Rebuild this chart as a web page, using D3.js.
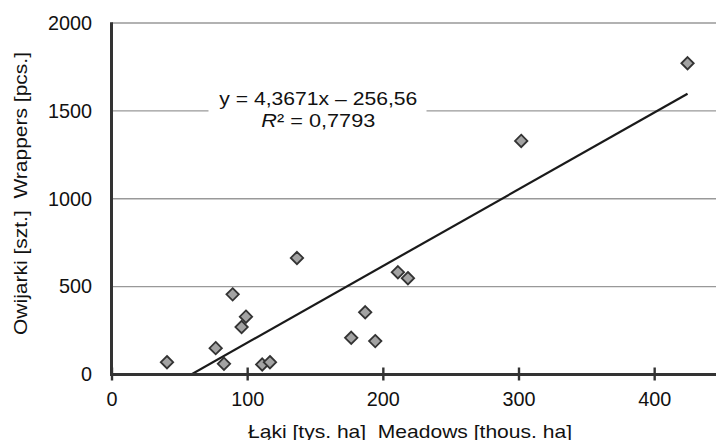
<!DOCTYPE html>
<html>
<head>
<meta charset="utf-8">
<script src="https://cdn.jsdelivr.net/npm/d3@7"></script>
<style>
html,body{margin:0;padding:0;background:#fff;}
svg{display:block;font-family:"Liberation Sans",Arial,Helvetica,sans-serif;}
</style>
</head>
<body>
<svg id="chart" width="716" height="440"></svg>
<script>
// Data
const meadows  = [40.9, 76.8, 82.9, 89.3, 95.9, 99.1, 111.1, 116.8, 136.7, 176.7, 187.0, 194.4, 211.1, 218.5, 302.0, 424.6];
const wrappers = [70, 150, 61, 456, 270, 329, 57, 70, 663, 209, 354, 190, 582, 548, 1329, 1771];
const xTicks = [0, 100, 200, 300, 400];
const yTicks = [0, 500, 1000, 1500, 2000];
const slope = 4.3671, intercept = -256.56;
const eqLine1 = "y = 4,3671x – 256,56";
const eqR2 = "0,7793";
const xTitle = "Łąki [tys. ha]  Meadows [thous. ha]";
const yTitle = "Owijarki [szt.]  Wrappers [pcs.]";

const svg = d3.select("#chart");
const x = d3.scaleLinear().domain([0, 450]).range([111.5, 722]);
const y = d3.scaleLinear().domain([0, 2000]).range([374.5, 23]);
const fs = 19, tfs = 19.8;

svg.append("clipPath").attr("id", "plotclip")
  .append("rect").attr("x", x(0)).attr("y", y(2000)).attr("width", x(450) - x(0)).attr("height", y(0) - y(2000));

// gridlines
svg.append("g").selectAll("line").data(yTicks.filter(d => d > 0)).join("line")
  .attr("x1", x(0)).attr("x2", 716)
  .attr("y1", d => y(d)).attr("y2", d => y(d))
  .attr("stroke", "#999").attr("stroke-width", 1.4);

// trendline
const xs = d3.extent(meadows);
svg.append("line")
  .attr("clip-path", "url(#plotclip)")
  .attr("x1", x(xs[0])).attr("y1", y(slope * xs[0] + intercept))
  .attr("x2", x(xs[1])).attr("y2", y(slope * xs[1] + intercept))
  .attr("stroke", "#1a1a1a").attr("stroke-width", 2.2);

// equation label box
const eqCx = 318.3;
svg.append("rect").attr("x", 208.5).attr("y", 82).attr("width", 218).attr("height", 50).attr("fill", "#fff");
svg.append("text").attr("x", eqCx).attr("y", 104.5).attr("text-anchor", "middle")
  .attr("font-size", fs).attr("fill", "#111")
  .attr("textLength", 198).attr("lengthAdjust", "spacingAndGlyphs")
  .text(eqLine1);
const t2 = svg.append("text").attr("x", eqCx).attr("y", 126.5).attr("text-anchor", "middle")
  .attr("font-size", fs).attr("fill", "#111")
  .attr("textLength", 114).attr("lengthAdjust", "spacingAndGlyphs");
t2.append("tspan").attr("font-style", "italic").text("R");
t2.append("tspan").text("² = " + eqR2);

// markers
svg.append("g").selectAll("path").data(meadows.map((d, i) => [d, wrappers[i]])).join("path")
  .attr("d", d3.symbol().type(d3.symbolDiamond2).size(2 * 7 * 7))
  .attr("transform", d => `translate(${x(d[0])},${y(d[1])})`)
  .attr("fill", "#a3a3a3").attr("stroke", "#333").attr("stroke-width", 1.8);

// axes
const xAxis = svg.append("g").attr("transform", `translate(0,${y(0)})`)
  .call(d3.axisBottom(x).tickValues(xTicks).tickSize(0).tickPadding(17).tickFormat(d3.format("d")));
xAxis.select(".domain").remove();
xAxis.selectAll("text").attr("font-size", tfs).attr("fill", "#111").attr("font-family", "Liberation Sans, Arial, sans-serif");
xAxis.selectAll(".tick").append("line").attr("y1", -7).attr("y2", 6).attr("stroke", "#333").attr("stroke-width", 2.4);
svg.append("line").attr("x1", x(0) - 1.5).attr("x2", 716).attr("y1", y(0)).attr("y2", y(0))
  .attr("stroke", "#333").attr("stroke-width", 3);

const yAxis = svg.append("g").attr("transform", `translate(${x(0)},0)`)
  .call(d3.axisLeft(y).tickValues(yTicks).tickSize(0).tickPadding(19.5).tickFormat(d3.format("d")));
yAxis.select(".domain").remove();
yAxis.selectAll("text").attr("font-size", tfs).attr("fill", "#111").attr("font-family", "Liberation Sans, Arial, sans-serif");
svg.append("line").attr("x1", x(0)).attr("x2", x(0)).attr("y1", y(2000) - 0.7).attr("y2", y(0) + 1.5)
  .attr("stroke", "#333").attr("stroke-width", 3);

// titles
svg.append("text").attr("x", 410).attr("y", 437.5).attr("text-anchor", "middle")
  .attr("font-size", fs).attr("fill", "#111").style("white-space", "pre").attr("xml:space", "preserve")
  .attr("textLength", 324).attr("lengthAdjust", "spacingAndGlyphs")
  .text(xTitle);
svg.append("text").attr("transform", "translate(27,193.5) rotate(-90)").attr("text-anchor", "middle")
  .attr("font-size", fs).attr("fill", "#111").style("white-space", "pre").attr("xml:space", "preserve")
  .attr("textLength", 283).attr("lengthAdjust", "spacingAndGlyphs")
  .text(yTitle);
</script>
</body>
</html>
